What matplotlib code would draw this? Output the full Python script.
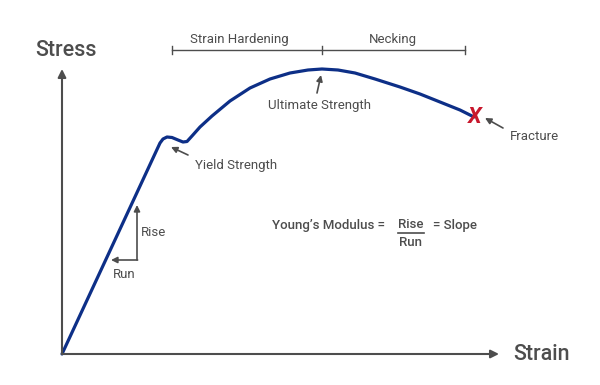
import matplotlib.pyplot as plt

# curve (strain, stress in arbitrary units)
strain = [0, 98, 101, 105, 110, 116, 121, 125, 130, 138, 150, 168, 188, 208,
          228, 246, 260, 276, 293, 313, 338, 358, 378, 398, 412]
stress = [0, 211, 215, 217, 216.5, 214, 212, 212.5, 218, 227, 238, 253, 266, 275,
          281, 284, 285, 284, 281, 275, 267, 260, 252, 244, 237]

# bracket over the top: start of hardening, ultimate strength, fracture
bracket_x = [110, 260, 403]
bracket_y = 304
region_labels = ['Strain Hardening', 'Necking']

ultimate = (259, 279)
yield_pt = (109, 207)
fracture = (412, 237)

GRAY = '#4d4d4d'
BLUE = '#0d2f87'
RED = '#c8172c'
FS = 9.5

plt.rcParams['font.family'] = ['Roboto', 'DejaVu Sans']

fig = plt.figure(figsize=(6, 3.85), dpi=100)
ax = fig.add_axes([0, 0, 1, 1])
ax.set_xlim(-62, 538)
ax.set_ylim(-31, 354)
ax.axis('off')

arrow = dict(arrowstyle='-|>', color=GRAY, lw=1.2, mutation_scale=9, shrinkA=0, shrinkB=0)

# axes arrows
ax.annotate('', xy=(0, 285), xytext=(0, 0), arrowprops=dict(arrow, lw=1.5, mutation_scale=12))
ax.annotate('', xy=(437, 0), xytext=(0, 0), arrowprops=dict(arrow, lw=1.5, mutation_scale=12))
ax.text(4, 304, 'Stress', ha='center', va='center', fontsize=15.5, fontweight='medium', color=GRAY)
ax.text(451, -1, 'Strain', ha='left', va='center', fontsize=15.5, fontweight='medium', color=GRAY)

# curve
ax.plot(strain, stress, color=BLUE, lw=2.3, solid_joinstyle='round', solid_capstyle='round')
ax.text(fracture[0] + 1, fracture[1], 'X', ha='center', va='center', fontsize=16,
        fontweight='bold', fontstyle='italic', color=RED)

# bracket
ax.plot([bracket_x[0], bracket_x[-1]], [bracket_y, bracket_y], color=GRAY, lw=1)
for bx in bracket_x:
    ax.plot([bx, bx], [bracket_y - 4, bracket_y + 4], color=GRAY, lw=1)
for i, lab in enumerate(region_labels):
    ax.text((bracket_x[i] + bracket_x[i + 1]) / 2 - 8 * (i == 0) - 0.5 * (i == 1), 314, lab,
            ha='center', va='center', fontsize=FS, color=GRAY)

# annotations
ax.annotate('', xy=ultimate, xytext=(255, 261), arrowprops=arrow)
ax.text(257.5, 249, 'Ultimate Strength', ha='center', va='center', fontsize=FS, color=GRAY)

ax.annotate('', xy=yield_pt, xytext=(126, 199), arrowprops=arrow)
ax.text(133, 189, 'Yield Strength', ha='left', va='center', fontsize=FS, color=GRAY)

ax.annotate('', xy=(423, 236), xytext=(441, 226), arrowprops=arrow)
ax.text(448, 217, 'Fracture', ha='left', va='center', fontsize=FS, color=GRAY)

# rise / run
ax.annotate('', xy=(75, 149), xytext=(75, 94), arrowprops=arrow)
ax.annotate('', xy=(49, 94), xytext=(75.6, 94), arrowprops=arrow)
ax.text(79, 122, 'Rise', ha='left', va='center', fontsize=FS, color=GRAY)
ax.text(62, 80, 'Run', ha='center', va='center', fontsize=FS, color=GRAY)

# young's modulus
ax.text(323, 129, "Young\u2019s Modulus =", ha='right', va='center', fontsize=FS,
        fontweight='medium', color=GRAY)
ax.text(349, 129, 'Rise', ha='center', va='center', fontsize=FS, fontweight='medium', color=GRAY)
ax.plot([336, 362], [121, 121], color=GRAY, lw=1.2)
ax.text(349, 112, 'Run', ha='center', va='center', fontsize=FS, fontweight='medium', color=GRAY)
ax.text(371, 129, '= Slope', ha='left', va='center', fontsize=FS, fontweight='medium', color=GRAY)

fig.savefig('out.png', dpi=100)
